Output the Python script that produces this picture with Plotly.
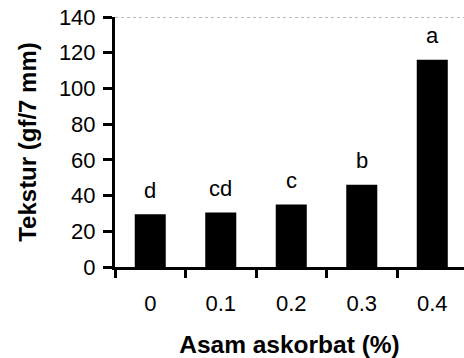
import plotly.graph_objects as go

categories = ["0", "0.1", "0.2", "0.3", "0.4"]
tekstur = [29.5, 30.5, 35, 46, 116]
letters = ["d", "cd", "c", "b", "a"]
y_ticks = [0, 20, 40, 60, 80, 100, 120, 140]

FONT = "Liberation Sans, Arial, sans-serif"

fig = go.Figure()
fig.add_trace(go.Bar(
    x=categories, y=tekstur, width=0.44,
    marker=dict(color="black", line=dict(width=0)),
    showlegend=False,
))

for i, (v, t) in enumerate(zip(tekstur, letters)):
    fig.add_annotation(x=i, y=v, text=t, showarrow=False, yanchor="middle",
                       yshift=24, font=dict(family=FONT, size=22, color="black"))

# dotted top border
fig.add_shape(type="line", xref="paper", yref="y", x0=0, x1=1, y0=140, y1=140,
              line=dict(color="#777777", width=1, dash="dot"))

fig.update_layout(
    width=464, height=358,
    margin=dict(l=115, r=0, t=17, b=91),
    paper_bgcolor="white", plot_bgcolor="white",
    font=dict(family=FONT, color="black"),
    bargap=0.56,
)
fig.update_xaxes(
    type="category", range=[-0.5, 4.45], automargin=False,
    showline=True, linecolor="black", linewidth=3,
    ticks="outside", tickson="boundaries", ticklen=8, tickwidth=3, tickcolor="black",
    tickfont=dict(size=22, family=FONT), ticklabelstandoff=15,
    showgrid=False, zeroline=False,
    title=dict(text="<b>Asam askorbat (%)</b>", font=dict(size=24.5, family=FONT), standoff=25),
)
fig.update_yaxes(
    range=[0, 140], tickvals=y_ticks, automargin=False,
    showline=True, linecolor="black", linewidth=3,
    ticks="outside", ticklen=9, tickwidth=3, tickcolor="black",
    tickfont=dict(size=22, family=FONT), ticklabelstandoff=3,
    showgrid=False, zeroline=False,
    title=dict(text="<b>Tekstur (gf/7 mm)</b>", font=dict(size=24, family=FONT), standoff=16),
)

fig.write_html("out.html", config={"displayModeBar": False},
               post_script="document.body.style.margin='0';document.body.style.overflow='hidden';")
